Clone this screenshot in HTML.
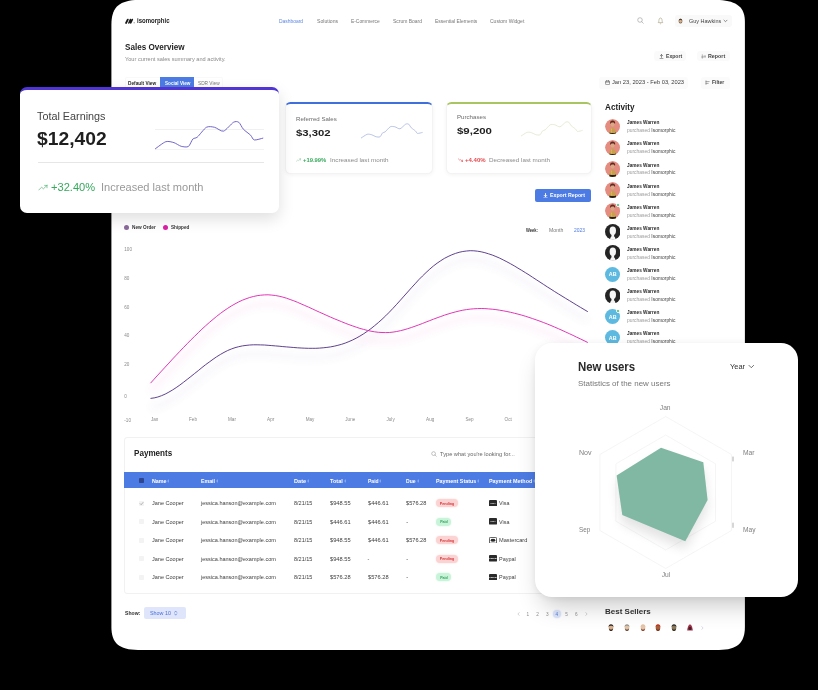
<!DOCTYPE html>
<html lang="en"><head><meta charset="utf-8"><title>Isomorphic Dashboard</title>
<style>
html,body{margin:0;padding:0;background:#000;}
body{width:818px;height:690px;position:relative;overflow:hidden;font-family:"Liberation Sans",sans-serif;}
.t{position:absolute;white-space:nowrap;display:block;transform-origin:0 50%;}
.b{position:absolute;box-sizing:border-box;display:block;}
</style></head>
<body>
<svg class="b" style="left:0px;top:0px;" width="818" height="690" viewBox="0 0 818 690"><path d="M141 -0.2 H713 C735 -0.2 744.9 5.5 744.9 22 V627 C744.9 643 737 649.9 719 649.9 H138 C119 649.9 111.4 643 111.4 627 V25 C111.4 7 119 -0.2 141 -0.2 Z" fill="#fff"/></svg>
<svg class="b" style="left:124.8px;top:18.1px;" width="11" height="6.6" viewBox="0 0 10 6"><path d="M1 4.5 L2.5 1.5" stroke="#1a1a1a" stroke-width="1.7" stroke-linecap="round" fill="none"/><path d="M3.5 4.6 L4.9 1.3 L5.2 4.6 L6.7 1.3" stroke="#1a1a1a" stroke-width="1.4" stroke-linecap="round" stroke-linejoin="round" fill="none"/><path d="M7.8 4.3 H9 M8.4 3.7 V4.9" stroke="#888" stroke-width="0.45"/></svg>
<span class="t" style="left:137px;top:16px;font-size:6.6px;line-height:9px;font-weight:700;color:#222;transform:scaleX(0.914);">isomorphic</span>
<span class="t" style="left:279.2px;top:18px;font-size:4.9px;line-height:7px;font-weight:400;color:#5a86e2;transform:scaleX(1.007);">Dashboard</span>
<span class="t" style="left:316.9px;top:18px;font-size:4.9px;line-height:7px;font-weight:400;color:#777;transform:scaleX(1.048);">Solutions</span>
<span class="t" style="left:350.9px;top:18px;font-size:4.9px;line-height:7px;font-weight:400;color:#777;transform:scaleX(0.996);">E-Commerce</span>
<span class="t" style="left:392.8px;top:18px;font-size:4.9px;line-height:7px;font-weight:400;color:#777;transform:scaleX(1.016);">Scrum Board</span>
<span class="t" style="left:434.7px;top:18px;font-size:4.9px;line-height:7px;font-weight:400;color:#777;transform:scaleX(1.017);">Essential Elements</span>
<span class="t" style="left:489.8px;top:18px;font-size:4.9px;line-height:7px;font-weight:400;color:#777;transform:scaleX(1.026);">Custom Widget</span>
<svg class="b" style="left:637px;top:17.4px;" width="7" height="7" viewBox="0 0 7 7"><circle cx="3" cy="3" r="2.3" stroke="#999" stroke-width="0.6" fill="none"/><path d="M4.7 4.7 L6.3 6.3" stroke="#999" stroke-width="0.6" stroke-linecap="round"/></svg>
<svg class="b" style="left:656.6px;top:17px;" width="7" height="8" viewBox="0 0 7 8"><path d="M1.2 5.6 C2 4.8 1.8 3.6 2 2.8 C2.2 1.6 2.8 1 3.5 1 C4.2 1 4.8 1.6 5 2.8 C5.2 3.6 5 4.8 5.8 5.6 Z" stroke="#a59a78" stroke-width="0.6" fill="none" stroke-linejoin="round"/><path d="M2.9 6.4 Q3.5 7.1 4.1 6.4" stroke="#a59a78" stroke-width="0.6" fill="none"/></svg>
<div class="b" style="left:674.8px;top:15px;width:57px;height:12px;background:#f9f9f9;border-radius:3px;"></div>
<svg class="b" style="left:678.2px;top:18px;" width="5" height="6" viewBox="0 0 5 6"><ellipse cx="2.5" cy="3" rx="1.9" ry="2.6" fill="#6b5a48"/><ellipse cx="2.5" cy="3.2" rx="1.3" ry="1.6" fill="#d8b08a"/><path d="M0.8 2.2 Q2.5 -0.4 4.2 2.2 Q2.5 1.2 0.8 2.2Z" fill="#3a2c22"/></svg>
<span class="t" style="left:688.7px;top:17px;font-size:5.2px;line-height:8px;font-weight:400;color:#444;transform:scaleX(1.057);">Guy Hawkins</span>
<svg class="b" style="left:722.6px;top:19.2px;" width="5" height="4" viewBox="0 0 5 4"><path d="M1 1.2 L2.5 2.7 L4 1.2" stroke="#444" stroke-width="0.6" fill="none" stroke-linecap="round" stroke-linejoin="round"/></svg>
<span class="t" style="left:124.6px;top:41px;font-size:8.6px;line-height:12px;font-weight:700;color:#1f1f1f;transform:scaleX(0.945);">Sales Overview</span>
<span class="t" style="left:124.5px;top:55px;font-size:5.2px;line-height:8px;font-weight:400;color:#8a8a8a;transform:scaleX(1.084);">Your current sales summary and activity.</span>
<div class="b" style="left:654px;top:51px;width:32px;height:10.4px;background:#fafafa;border-radius:3px;"></div>
<svg class="b" style="left:658.8px;top:53.6px;" width="5" height="5.4" viewBox="0 0 5 5.4"><path d="M2.5 0.6 V3.4 M1.3 1.8 L2.5 0.6 L3.7 1.8 M1 4.7 H4" stroke="#444" stroke-width="0.6" fill="none" stroke-linecap="round" stroke-linejoin="round"/></svg>
<span class="t" style="left:665.8px;top:52px;font-size:5.3px;line-height:8px;font-weight:700;color:#444;transform:scaleX(0.965);">Export</span>
<div class="b" style="left:697px;top:51px;width:32.8px;height:10.4px;background:#fafafa;border-radius:3px;"></div>
<svg class="b" style="left:701px;top:53.8px;" width="5.4" height="5" viewBox="0 0 5.4 5"><path d="M1.3 0.8 V4.2 M0.6 3 H4.8 M3 2 H4.8" stroke="#666" stroke-width="0.5" fill="none" stroke-linecap="round"/></svg>
<span class="t" style="left:708px;top:52px;font-size:5.3px;line-height:8px;font-weight:700;color:#444;transform:scaleX(1.007);">Report</span>
<div class="b" style="left:125px;top:76.6px;width:97.5px;height:12px;border:0.6px solid #f9f9f9;border-radius:2px;"></div>
<span class="t" style="left:127.9px;top:80px;font-size:4.7px;line-height:7px;font-weight:700;color:#2a2a2a;transform:scaleX(1.011);">Default View</span>
<div class="b" style="left:160.2px;top:76.6px;width:33.7px;height:12px;background:#4c7be3;"></div>
<span class="t" style="left:164.6px;top:80px;font-size:4.7px;line-height:7px;font-weight:700;color:#fff;transform:scaleX(0.988);">Social View</span>
<span class="t" style="left:197.8px;top:80px;font-size:4.7px;line-height:7px;font-weight:400;color:#777;transform:scaleX(1.015);">SDR View</span>
<div class="b" style="left:598.8px;top:76.8px;width:89px;height:11.8px;background:#fbfbfb;border-radius:3px;"></div>
<svg class="b" style="left:605px;top:80.2px;" width="5.2" height="5.2" viewBox="0 0 5.2 5.2"><rect x="0.6" y="1" width="4" height="3.6" rx="0.5" stroke="#444" stroke-width="0.5" fill="none"/><path d="M0.6 2.1 H4.6 M1.7 0.4 V1.3 M3.5 0.4 V1.3" stroke="#444" stroke-width="0.5" stroke-linecap="round"/></svg>
<span class="t" style="left:612px;top:78px;font-size:5.3px;line-height:8px;font-weight:400;color:#3a3a3a;transform:scaleX(1.082);">Jan 23, 2023 - Feb 03, 2023</span>
<div class="b" style="left:700.5px;top:76.8px;width:29.5px;height:11.8px;background:#fbfbfb;border-radius:3px;"></div>
<svg class="b" style="left:705px;top:80.2px;" width="5" height="5.2" viewBox="0 0 5 5.2"><path d="M1 0.8 V4.4 M1 1.6 H4.2 M1 3.4 H3.2" stroke="#555" stroke-width="0.5" fill="none" stroke-linecap="round"/></svg>
<span class="t" style="left:712.2px;top:78px;font-size:5.3px;line-height:8px;font-weight:700;color:#444;transform:scaleX(0.942);">Filter</span>
<div class="b" style="left:285px;top:102.4px;width:148.2px;height:71.8px;background:#fff;border-radius:5.5px;border:0.7px solid #f3f3f3;border-top:2.5px solid #3f6fdc;box-shadow:0 1px 4px rgba(0,0,0,0.05);"></div>
<span class="t" style="left:295.9px;top:114px;font-size:6.1px;line-height:9px;font-weight:400;color:#6a6a6a;transform:scaleX(1.001);">Referred Sales</span>
<span class="t" style="left:296.09999999999997px;top:126px;font-size:9.9px;line-height:13px;font-weight:700;color:#1f1f1f;transform:scaleX(1.148);">$3,302</span>
<svg class="b" style="left:361.3px;top:122.6px;" width="62" height="16" viewBox="0 0 62 16"><path d="M0 15.1 C0.77 14.62 4.80 11.71 6.15 11.3 C7.50 10.89 9.71 11.50 10.8 11.8 C11.89 12.10 13.88 13.45 14.9 13.7 C15.93 13.95 18.17 14.28 19 13.8 C19.83 13.33 20.91 10.51 21.55 9.9 C22.19 9.29 23.14 9.66 24.1 8.9 C25.06 8.14 28.02 4.44 29.25 3.8 C30.48 3.16 32.68 3.55 33.9 3.8 C35.12 4.05 37.66 6.12 39 5.8 C40.34 5.47 43.56 1.77 44.65 1.2 C45.74 0.62 46.99 0.75 47.7 1.2 C48.41 1.65 49.46 3.96 50.3 4.8 C51.14 5.64 53.62 7.20 54.4 7.9 C55.17 8.60 55.60 10.21 56.5 10.4 C57.40 10.59 60.96 9.53 61.6 9.4" stroke="#9dabdc" stroke-width="0.7" fill="none" stroke-linejoin="round"/></svg>
<svg class="b" style="left:296.4px;top:157.6px;" width="5" height="4.2" viewBox="0 0 5 4.2"><path d="M0.4 3.3 L1.9 1.9 L2.7 2.6 L4.5 0.9 M4.5 0.9 V2.1 M4.5 0.9 H3.3" stroke="#8fc7a2" stroke-width="0.5" fill="none" stroke-linecap="round" stroke-linejoin="round"/></svg>
<span class="t" style="left:303.4px;top:156px;font-size:5.7px;line-height:8px;font-weight:700;color:#35a95c;transform:scaleX(1.025);">+19.99%</span>
<span class="t" style="left:330.3px;top:156px;font-size:5.7px;line-height:8px;font-weight:400;color:#8a8a8a;transform:scaleX(1.108);">Increased last month</span>
<div class="b" style="left:446.2px;top:102.4px;width:145.4px;height:71.8px;background:#fff;border-radius:5.5px;border:0.7px solid #f3f3f3;border-top:2.5px solid #a9c460;box-shadow:0 1px 4px rgba(0,0,0,0.05);"></div>
<span class="t" style="left:457px;top:112px;font-size:6.1px;line-height:9px;font-weight:400;color:#6a6a6a;transform:scaleX(1.007);">Purchases</span>
<span class="t" style="left:457.2px;top:124px;font-size:9.9px;line-height:13px;font-weight:700;color:#1f1f1f;transform:scaleX(1.158);">$9,200</span>
<svg class="b" style="left:520.5px;top:120.6px;" width="62" height="16" viewBox="0 0 62 16"><path d="M0 15.1 C0.77 14.62 4.80 11.71 6.15 11.3 C7.50 10.89 9.71 11.50 10.8 11.8 C11.89 12.10 13.88 13.45 14.9 13.7 C15.93 13.95 18.17 14.28 19 13.8 C19.83 13.33 20.91 10.51 21.55 9.9 C22.19 9.29 23.14 9.66 24.1 8.9 C25.06 8.14 28.02 4.44 29.25 3.8 C30.48 3.16 32.68 3.55 33.9 3.8 C35.12 4.05 37.66 6.12 39 5.8 C40.34 5.47 43.56 1.77 44.65 1.2 C45.74 0.62 46.99 0.75 47.7 1.2 C48.41 1.65 49.46 3.96 50.3 4.8 C51.14 5.64 53.62 7.20 54.4 7.9 C55.17 8.60 55.60 10.21 56.5 10.4 C57.40 10.59 60.96 9.53 61.6 9.4" stroke="#dfe1c4" stroke-width="0.7" fill="none" stroke-linejoin="round"/></svg>
<svg class="b" style="left:457.5px;top:157.6px;" width="5" height="4.2" viewBox="0 0 5 4.2"><path d="M0.4 0.9 L1.9 2.3 L2.7 1.6 L4.5 3.3 M4.5 3.3 V2.1 M4.5 3.3 H3.3" stroke="#e5484d" stroke-width="0.55" fill="none" stroke-linecap="round" stroke-linejoin="round"/></svg>
<span class="t" style="left:465px;top:156px;font-size:5.7px;line-height:8px;font-weight:700;color:#e5484d;transform:scaleX(1.059);">+4.40%</span>
<span class="t" style="left:489px;top:156px;font-size:5.7px;line-height:8px;font-weight:400;color:#8a8a8a;transform:scaleX(1.101);">Decreased last month</span>
<div class="b" style="left:535.1px;top:188.6px;width:56.2px;height:13.2px;background:#4c7be3;border-radius:2px;"></div>
<svg class="b" style="left:542.8px;top:192.6px;" width="5" height="5.8" viewBox="0 0 5 5.8"><path d="M2.5 0.5 V3.6 M1.2 2.4 L2.5 3.7 L3.8 2.4" stroke="#fff" stroke-width="0.9" fill="none" stroke-linecap="round" stroke-linejoin="round"/><path d="M0.8 5 H4.2" stroke="#fff" stroke-width="0.8" stroke-linecap="round"/></svg>
<span class="t" style="left:549.5px;top:191px;font-size:5.3px;line-height:8px;font-weight:700;color:#fff;transform:scaleX(0.988);">Export Report</span>
<div class="b" style="left:124.2px;top:225px;width:5.2px;height:5.2px;background:#8b6a9c;border-radius:50%;"></div>
<span class="t" style="left:132.1px;top:224px;font-size:4.7px;line-height:7px;font-weight:700;color:#333;transform:scaleX(1.003);">New Order</span>
<div class="b" style="left:163px;top:225px;width:5.2px;height:5.2px;background:#dc1fa6;border-radius:50%;"></div>
<span class="t" style="left:170.9px;top:224px;font-size:4.7px;line-height:7px;font-weight:700;color:#333;transform:scaleX(0.995);">Shipped</span>
<span class="t" style="left:526px;top:227px;font-size:4.6px;line-height:7px;font-weight:700;color:#333;transform:scaleX(0.885);">Week:</span>
<span class="t" style="left:548.9px;top:227px;font-size:4.8px;line-height:7px;font-weight:400;color:#777;transform:scaleX(1.072);">Month</span>
<span class="t" style="left:574px;top:227px;font-size:4.8px;line-height:7px;font-weight:400;color:#4c7be3;transform:scaleX(1.031);">2023</span>
<span class="t" style="left:124.3px;top:246px;font-size:4.6px;line-height:7px;font-weight:400;color:#8a8a8a;">100</span>
<span class="t" style="left:124.3px;top:275px;font-size:4.6px;line-height:7px;font-weight:400;color:#8a8a8a;">80</span>
<span class="t" style="left:124.3px;top:304px;font-size:4.6px;line-height:7px;font-weight:400;color:#8a8a8a;">60</span>
<span class="t" style="left:124.3px;top:332px;font-size:4.6px;line-height:7px;font-weight:400;color:#8a8a8a;">40</span>
<span class="t" style="left:124.3px;top:361px;font-size:4.6px;line-height:7px;font-weight:400;color:#8a8a8a;">20</span>
<span class="t" style="left:124.3px;top:393px;font-size:4.6px;line-height:7px;font-weight:400;color:#8a8a8a;">0</span>
<span class="t" style="left:124.3px;top:417px;font-size:4.6px;line-height:7px;font-weight:400;color:#8a8a8a;">-10</span>
<span class="t" style="left:154.6px;top:416px;font-size:4.6px;line-height:7px;font-weight:400;color:#8a8a8a;transform:translateX(-50%);">Jan</span>
<span class="t" style="left:193px;top:416px;font-size:4.6px;line-height:7px;font-weight:400;color:#8a8a8a;transform:translateX(-50%);">Feb</span>
<span class="t" style="left:232px;top:416px;font-size:4.6px;line-height:7px;font-weight:400;color:#8a8a8a;transform:translateX(-50%);">Mar</span>
<span class="t" style="left:270.7px;top:416px;font-size:4.6px;line-height:7px;font-weight:400;color:#8a8a8a;transform:translateX(-50%);">Apr</span>
<span class="t" style="left:310px;top:416px;font-size:4.6px;line-height:7px;font-weight:400;color:#8a8a8a;transform:translateX(-50%);">May</span>
<span class="t" style="left:350.3px;top:416px;font-size:4.6px;line-height:7px;font-weight:400;color:#8a8a8a;transform:translateX(-50%);">June</span>
<span class="t" style="left:390.6px;top:416px;font-size:4.6px;line-height:7px;font-weight:400;color:#8a8a8a;transform:translateX(-50%);">July</span>
<span class="t" style="left:430.2px;top:416px;font-size:4.6px;line-height:7px;font-weight:400;color:#8a8a8a;transform:translateX(-50%);">Aug</span>
<span class="t" style="left:469.6px;top:416px;font-size:4.6px;line-height:7px;font-weight:400;color:#8a8a8a;transform:translateX(-50%);">Sep</span>
<span class="t" style="left:508.2px;top:416px;font-size:4.6px;line-height:7px;font-weight:400;color:#8a8a8a;transform:translateX(-50%);">Oct</span>
<span class="t" style="left:547.2px;top:416px;font-size:4.6px;line-height:7px;font-weight:400;color:#8a8a8a;transform:translateX(-50%);">Nov</span>
<span class="t" style="left:586.2px;top:416px;font-size:4.6px;line-height:7px;font-weight:400;color:#8a8a8a;transform:translateX(-50%);">Dec</span>
<svg class="b" style="left:0px;top:0px;" width="818" height="690" viewBox="0 0 818 690"><defs><filter id="sh" x="-10%" y="-20%" width="120%" height="160%"><feGaussianBlur stdDeviation="4"/></filter></defs><g filter="url(#sh)" opacity="0.10"><path d="M150.5 398.4 L154.2 397.9 L157.8 397.0 L161.5 395.7 L165.2 394.1 L168.9 392.1 L172.5 390.0 L176.2 387.6 L179.9 385.0 L183.6 382.2 L187.2 379.4 L190.9 376.5 L194.6 373.5 L198.3 370.6 L201.9 367.6 L205.6 364.7 L209.3 362.0 L213.0 359.3 L216.6 356.8 L220.3 354.5 L224.0 352.4 L227.7 350.5 L231.3 349.0 L235.0 347.7 L238.7 346.7 L242.4 345.9 L246.0 345.4 L249.7 345.0 L253.4 344.8 L257.1 344.8 L260.7 344.9 L264.4 345.0 L268.1 345.3 L271.8 345.6 L275.4 345.9 L279.1 346.2 L282.8 346.6 L286.5 346.9 L290.1 347.2 L293.8 347.5 L297.5 347.8 L301.1 348.0 L304.8 348.2 L308.5 348.3 L312.2 348.3 L315.8 348.3 L319.5 348.1 L323.2 347.8 L326.9 347.4 L330.5 346.9 L334.2 346.2 L337.9 345.3 L341.6 344.3 L345.2 343.1 L348.9 341.6 L352.6 340.0 L356.3 338.1 L359.9 336.1 L363.6 333.8 L367.3 331.3 L371.0 328.6 L374.6 325.7 L378.3 322.6 L382.0 319.3 L385.7 315.8 L389.3 312.2 L393.0 308.3 L396.7 304.3 L400.4 300.2 L404.0 296.1 L407.7 292.0 L411.4 287.8 L415.1 283.8 L418.7 279.8 L422.4 276.1 L426.1 272.5 L429.8 269.1 L433.4 266.0 L437.1 263.2 L440.8 260.7 L444.4 258.4 L448.1 256.5 L451.8 254.8 L455.5 253.4 L459.1 252.3 L462.8 251.5 L466.5 251.0 L470.2 250.7 L473.8 250.8 L477.5 251.2 L481.2 251.8 L484.9 252.7 L488.5 253.8 L492.2 255.0 L495.9 256.5 L499.6 258.1 L503.2 259.9 L506.9 261.8 L510.6 263.8 L514.3 265.9 L517.9 268.1 L521.6 270.3 L525.3 272.6 L529.0 274.9 L532.6 277.3 L536.3 279.7 L540.0 282.1 L543.7 284.5 L547.3 286.9 L551.0 289.2 L554.7 291.6 L558.4 293.9 L562.0 296.1 L565.7 298.4 L569.4 300.6 L573.1 302.9 L576.7 305.1 L580.4 307.3 L584.1 309.5 L587.8 311.7" transform="translate(0,9)" stroke="#6a3fa0" stroke-width="3" fill="none"/><path d="M150.5 383.2 L154.2 379.1 L157.8 375.1 L161.5 371.1 L165.2 367.1 L168.9 363.1 L172.5 359.1 L176.2 355.2 L179.9 351.3 L183.6 347.4 L187.2 343.7 L190.9 339.9 L194.6 336.3 L198.3 332.7 L201.9 329.2 L205.6 325.8 L209.3 322.5 L213.0 319.4 L216.6 316.4 L220.3 313.5 L224.0 310.8 L227.7 308.3 L231.3 306.0 L235.0 303.9 L238.7 301.9 L242.4 300.2 L246.0 298.8 L249.7 297.5 L253.4 296.5 L257.1 295.7 L260.7 295.2 L264.4 294.9 L268.1 294.8 L271.8 295.1 L275.4 295.5 L279.1 296.2 L282.8 297.1 L286.5 298.2 L290.1 299.5 L293.8 300.8 L297.5 302.3 L301.1 303.9 L304.8 305.5 L308.5 307.1 L312.2 308.8 L315.8 310.5 L319.5 312.2 L323.2 313.8 L326.9 315.5 L330.5 317.1 L334.2 318.7 L337.9 320.2 L341.6 321.7 L345.2 323.2 L348.9 324.6 L352.6 325.9 L356.3 327.2 L359.9 328.4 L363.6 329.4 L367.3 330.4 L371.0 331.2 L374.6 331.8 L378.3 332.3 L382.0 332.5 L385.7 332.6 L389.3 332.5 L393.0 332.1 L396.7 331.5 L400.4 330.7 L404.0 329.8 L407.7 328.7 L411.4 327.5 L415.1 326.2 L418.7 324.9 L422.4 323.5 L426.1 322.0 L429.8 320.6 L433.4 319.2 L437.1 317.8 L440.8 316.5 L444.4 315.2 L448.1 314.0 L451.8 312.9 L455.5 311.9 L459.1 311.0 L462.8 310.2 L466.5 309.6 L470.2 309.1 L473.8 308.8 L477.5 308.6 L481.2 308.5 L484.9 308.6 L488.5 308.9 L492.2 309.2 L495.9 309.6 L499.6 310.2 L503.2 310.8 L506.9 311.5 L510.6 312.3 L514.3 313.2 L517.9 314.1 L521.6 315.1 L525.3 316.2 L529.0 317.4 L532.6 318.6 L536.3 319.9 L540.0 321.2 L543.7 322.6 L547.3 324.0 L551.0 325.5 L554.7 327.1 L558.4 328.7 L562.0 330.3 L565.7 332.0 L569.4 333.7 L573.1 335.4 L576.7 337.2 L580.4 338.9 L584.1 340.7 L587.8 342.5" transform="translate(0,9)" stroke="#e020b0" stroke-width="3" fill="none"/></g><path d="M150.5 398.4 L154.2 397.9 L157.8 397.0 L161.5 395.7 L165.2 394.1 L168.9 392.1 L172.5 390.0 L176.2 387.6 L179.9 385.0 L183.6 382.2 L187.2 379.4 L190.9 376.5 L194.6 373.5 L198.3 370.6 L201.9 367.6 L205.6 364.7 L209.3 362.0 L213.0 359.3 L216.6 356.8 L220.3 354.5 L224.0 352.4 L227.7 350.5 L231.3 349.0 L235.0 347.7 L238.7 346.7 L242.4 345.9 L246.0 345.4 L249.7 345.0 L253.4 344.8 L257.1 344.8 L260.7 344.9 L264.4 345.0 L268.1 345.3 L271.8 345.6 L275.4 345.9 L279.1 346.2 L282.8 346.6 L286.5 346.9 L290.1 347.2 L293.8 347.5 L297.5 347.8 L301.1 348.0 L304.8 348.2 L308.5 348.3 L312.2 348.3 L315.8 348.3 L319.5 348.1 L323.2 347.8 L326.9 347.4 L330.5 346.9 L334.2 346.2 L337.9 345.3 L341.6 344.3 L345.2 343.1 L348.9 341.6 L352.6 340.0 L356.3 338.1 L359.9 336.1 L363.6 333.8 L367.3 331.3 L371.0 328.6 L374.6 325.7 L378.3 322.6 L382.0 319.3 L385.7 315.8 L389.3 312.2 L393.0 308.3 L396.7 304.3 L400.4 300.2 L404.0 296.1 L407.7 292.0 L411.4 287.8 L415.1 283.8 L418.7 279.8 L422.4 276.1 L426.1 272.5 L429.8 269.1 L433.4 266.0 L437.1 263.2 L440.8 260.7 L444.4 258.4 L448.1 256.5 L451.8 254.8 L455.5 253.4 L459.1 252.3 L462.8 251.5 L466.5 251.0 L470.2 250.7 L473.8 250.8 L477.5 251.2 L481.2 251.8 L484.9 252.7 L488.5 253.8 L492.2 255.0 L495.9 256.5 L499.6 258.1 L503.2 259.9 L506.9 261.8 L510.6 263.8 L514.3 265.9 L517.9 268.1 L521.6 270.3 L525.3 272.6 L529.0 274.9 L532.6 277.3 L536.3 279.7 L540.0 282.1 L543.7 284.5 L547.3 286.9 L551.0 289.2 L554.7 291.6 L558.4 293.9 L562.0 296.1 L565.7 298.4 L569.4 300.6 L573.1 302.9 L576.7 305.1 L580.4 307.3 L584.1 309.5 L587.8 311.7" stroke="#4d2c82" stroke-width="0.9" fill="none"/><path d="M150.5 383.2 L154.2 379.1 L157.8 375.1 L161.5 371.1 L165.2 367.1 L168.9 363.1 L172.5 359.1 L176.2 355.2 L179.9 351.3 L183.6 347.4 L187.2 343.7 L190.9 339.9 L194.6 336.3 L198.3 332.7 L201.9 329.2 L205.6 325.8 L209.3 322.5 L213.0 319.4 L216.6 316.4 L220.3 313.5 L224.0 310.8 L227.7 308.3 L231.3 306.0 L235.0 303.9 L238.7 301.9 L242.4 300.2 L246.0 298.8 L249.7 297.5 L253.4 296.5 L257.1 295.7 L260.7 295.2 L264.4 294.9 L268.1 294.8 L271.8 295.1 L275.4 295.5 L279.1 296.2 L282.8 297.1 L286.5 298.2 L290.1 299.5 L293.8 300.8 L297.5 302.3 L301.1 303.9 L304.8 305.5 L308.5 307.1 L312.2 308.8 L315.8 310.5 L319.5 312.2 L323.2 313.8 L326.9 315.5 L330.5 317.1 L334.2 318.7 L337.9 320.2 L341.6 321.7 L345.2 323.2 L348.9 324.6 L352.6 325.9 L356.3 327.2 L359.9 328.4 L363.6 329.4 L367.3 330.4 L371.0 331.2 L374.6 331.8 L378.3 332.3 L382.0 332.5 L385.7 332.6 L389.3 332.5 L393.0 332.1 L396.7 331.5 L400.4 330.7 L404.0 329.8 L407.7 328.7 L411.4 327.5 L415.1 326.2 L418.7 324.9 L422.4 323.5 L426.1 322.0 L429.8 320.6 L433.4 319.2 L437.1 317.8 L440.8 316.5 L444.4 315.2 L448.1 314.0 L451.8 312.9 L455.5 311.9 L459.1 311.0 L462.8 310.2 L466.5 309.6 L470.2 309.1 L473.8 308.8 L477.5 308.6 L481.2 308.5 L484.9 308.6 L488.5 308.9 L492.2 309.2 L495.9 309.6 L499.6 310.2 L503.2 310.8 L506.9 311.5 L510.6 312.3 L514.3 313.2 L517.9 314.1 L521.6 315.1 L525.3 316.2 L529.0 317.4 L532.6 318.6 L536.3 319.9 L540.0 321.2 L543.7 322.6 L547.3 324.0 L551.0 325.5 L554.7 327.1 L558.4 328.7 L562.0 330.3 L565.7 332.0 L569.4 333.7 L573.1 335.4 L576.7 337.2 L580.4 338.9 L584.1 340.7 L587.8 342.5" stroke="#e01fae" stroke-width="0.9" fill="none"/></svg>
<span class="t" style="left:604.9px;top:101px;font-size:8.6px;line-height:12px;font-weight:700;color:#222;transform:scaleX(0.950);">Activity</span>
<svg class="b" style="left:604.9px;top:118.8px;border-radius:50%;overflow:hidden;" width="15.6" height="15.6" viewBox="0 0 15.6 15.6"><circle cx="7.8" cy="7.8" r="7.8" fill="#e58c81"/><g><path d="M4.3 16 C4.2 11.4 5.4 8.9 7.6 8.7 C9.9 8.9 11.3 11.4 11.2 16 Z" fill="#c9a04c"/><path d="M4.3 16 L4.5 13.6 C6 14.3 9.4 14.3 11 13.6 L11.2 16 Z" fill="#2a1c14"/><rect x="6.7" y="7" width="1.8" height="2.4" fill="#cf9873"/><ellipse cx="7.6" cy="5.3" rx="2" ry="2.4" fill="#dba884"/><path d="M5.2 5.2 C4.6 2.2 6.2 1.4 7.7 1.5 C9.4 1.5 10.7 2.6 10 5.2 C9.6 3.9 8.9 3.4 7.6 3.5 C6.3 3.5 5.6 4 5.2 5.2 Z" fill="#5b2a22"/><path d="M6.6 9.6 C6.2 10.8 6.2 12.2 6.6 13.4" stroke="#e0bb62" stroke-width="0.9" fill="none"/></g></svg>
<span class="t" style="left:626.9px;top:119px;font-size:4.9px;line-height:7px;font-weight:700;color:#2a2a2a;transform:scaleX(0.971);">James Warren</span>
<span class="t" style="left:626.9px;top:127px;font-size:4.9px;line-height:7px;font-weight:400;color:#444;transform:scaleX(1.006);"><span style="color:#999">purchased</span> Isomorphic</span>
<svg class="b" style="left:604.9px;top:139.9px;border-radius:50%;overflow:hidden;" width="15.6" height="15.6" viewBox="0 0 15.6 15.6"><circle cx="7.8" cy="7.8" r="7.8" fill="#e58c81"/><g><path d="M4.3 16 C4.2 11.4 5.4 8.9 7.6 8.7 C9.9 8.9 11.3 11.4 11.2 16 Z" fill="#c9a04c"/><path d="M4.3 16 L4.5 13.6 C6 14.3 9.4 14.3 11 13.6 L11.2 16 Z" fill="#2a1c14"/><rect x="6.7" y="7" width="1.8" height="2.4" fill="#cf9873"/><ellipse cx="7.6" cy="5.3" rx="2" ry="2.4" fill="#dba884"/><path d="M5.2 5.2 C4.6 2.2 6.2 1.4 7.7 1.5 C9.4 1.5 10.7 2.6 10 5.2 C9.6 3.9 8.9 3.4 7.6 3.5 C6.3 3.5 5.6 4 5.2 5.2 Z" fill="#5b2a22"/><path d="M6.6 9.6 C6.2 10.8 6.2 12.2 6.6 13.4" stroke="#e0bb62" stroke-width="0.9" fill="none"/></g></svg>
<span class="t" style="left:626.9px;top:140px;font-size:4.9px;line-height:7px;font-weight:700;color:#2a2a2a;transform:scaleX(0.971);">James Warren</span>
<span class="t" style="left:626.9px;top:148px;font-size:4.9px;line-height:7px;font-weight:400;color:#444;transform:scaleX(1.006);"><span style="color:#999">purchased</span> Isomorphic</span>
<svg class="b" style="left:604.9px;top:161.0px;border-radius:50%;overflow:hidden;" width="15.6" height="15.6" viewBox="0 0 15.6 15.6"><circle cx="7.8" cy="7.8" r="7.8" fill="#e58c81"/><g><path d="M4.3 16 C4.2 11.4 5.4 8.9 7.6 8.7 C9.9 8.9 11.3 11.4 11.2 16 Z" fill="#c9a04c"/><path d="M4.3 16 L4.5 13.6 C6 14.3 9.4 14.3 11 13.6 L11.2 16 Z" fill="#2a1c14"/><rect x="6.7" y="7" width="1.8" height="2.4" fill="#cf9873"/><ellipse cx="7.6" cy="5.3" rx="2" ry="2.4" fill="#dba884"/><path d="M5.2 5.2 C4.6 2.2 6.2 1.4 7.7 1.5 C9.4 1.5 10.7 2.6 10 5.2 C9.6 3.9 8.9 3.4 7.6 3.5 C6.3 3.5 5.6 4 5.2 5.2 Z" fill="#5b2a22"/><path d="M6.6 9.6 C6.2 10.8 6.2 12.2 6.6 13.4" stroke="#e0bb62" stroke-width="0.9" fill="none"/></g></svg>
<span class="t" style="left:626.9px;top:162px;font-size:4.9px;line-height:7px;font-weight:700;color:#2a2a2a;transform:scaleX(0.971);">James Warren</span>
<span class="t" style="left:626.9px;top:169px;font-size:4.9px;line-height:7px;font-weight:400;color:#444;transform:scaleX(1.006);"><span style="color:#999">purchased</span> Isomorphic</span>
<svg class="b" style="left:604.9px;top:182.1px;border-radius:50%;overflow:hidden;" width="15.6" height="15.6" viewBox="0 0 15.6 15.6"><circle cx="7.8" cy="7.8" r="7.8" fill="#e58c81"/><g><path d="M4.3 16 C4.2 11.4 5.4 8.9 7.6 8.7 C9.9 8.9 11.3 11.4 11.2 16 Z" fill="#c9a04c"/><path d="M4.3 16 L4.5 13.6 C6 14.3 9.4 14.3 11 13.6 L11.2 16 Z" fill="#2a1c14"/><rect x="6.7" y="7" width="1.8" height="2.4" fill="#cf9873"/><ellipse cx="7.6" cy="5.3" rx="2" ry="2.4" fill="#dba884"/><path d="M5.2 5.2 C4.6 2.2 6.2 1.4 7.7 1.5 C9.4 1.5 10.7 2.6 10 5.2 C9.6 3.9 8.9 3.4 7.6 3.5 C6.3 3.5 5.6 4 5.2 5.2 Z" fill="#5b2a22"/><path d="M6.6 9.6 C6.2 10.8 6.2 12.2 6.6 13.4" stroke="#e0bb62" stroke-width="0.9" fill="none"/></g></svg>
<span class="t" style="left:626.9px;top:183px;font-size:4.9px;line-height:7px;font-weight:700;color:#2a2a2a;transform:scaleX(0.971);">James Warren</span>
<span class="t" style="left:626.9px;top:191px;font-size:4.9px;line-height:7px;font-weight:400;color:#444;transform:scaleX(1.006);"><span style="color:#999">purchased</span> Isomorphic</span>
<svg class="b" style="left:604.9px;top:203.2px;border-radius:50%;overflow:hidden;" width="15.6" height="15.6" viewBox="0 0 15.6 15.6"><circle cx="7.8" cy="7.8" r="7.8" fill="#e58c81"/><g><path d="M4.3 16 C4.2 11.4 5.4 8.9 7.6 8.7 C9.9 8.9 11.3 11.4 11.2 16 Z" fill="#c9a04c"/><path d="M4.3 16 L4.5 13.6 C6 14.3 9.4 14.3 11 13.6 L11.2 16 Z" fill="#2a1c14"/><rect x="6.7" y="7" width="1.8" height="2.4" fill="#cf9873"/><ellipse cx="7.6" cy="5.3" rx="2" ry="2.4" fill="#dba884"/><path d="M5.2 5.2 C4.6 2.2 6.2 1.4 7.7 1.5 C9.4 1.5 10.7 2.6 10 5.2 C9.6 3.9 8.9 3.4 7.6 3.5 C6.3 3.5 5.6 4 5.2 5.2 Z" fill="#5b2a22"/><path d="M6.6 9.6 C6.2 10.8 6.2 12.2 6.6 13.4" stroke="#e0bb62" stroke-width="0.9" fill="none"/></g></svg>
<div class="b" style="left:615.9px;top:203.0px;width:4px;height:4px;background:#2fb36a;border-radius:50%;border:0.5px solid #fff;"></div>
<span class="t" style="left:626.9px;top:204px;font-size:4.9px;line-height:7px;font-weight:700;color:#2a2a2a;transform:scaleX(0.971);">James Warren</span>
<span class="t" style="left:626.9px;top:212px;font-size:4.9px;line-height:7px;font-weight:400;color:#444;transform:scaleX(1.006);"><span style="color:#999">purchased</span> Isomorphic</span>
<svg class="b" style="left:604.9px;top:224.3px;" width="15.6" height="15.6" viewBox="0 0 15.6 15.6"><circle cx="7.8" cy="7.8" r="7.8" fill="#242424"/><ellipse cx="7.8" cy="6.7" rx="3.2" ry="4.2" fill="#f5f5f5"/><rect x="6.5" y="9.8" width="2.6" height="3" fill="#f5f5f5"/><path d="M5 15.7 C5.2 13.4 6.3 12.3 7.8 12.1 C9.3 12.3 10.4 13.4 10.6 15.7 Z" fill="#f5f5f5"/></svg>
<span class="t" style="left:626.9px;top:225px;font-size:4.9px;line-height:7px;font-weight:700;color:#2a2a2a;transform:scaleX(0.971);">James Warren</span>
<span class="t" style="left:626.9px;top:233px;font-size:4.9px;line-height:7px;font-weight:400;color:#444;transform:scaleX(1.006);"><span style="color:#999">purchased</span> Isomorphic</span>
<svg class="b" style="left:604.9px;top:245.4px;" width="15.6" height="15.6" viewBox="0 0 15.6 15.6"><circle cx="7.8" cy="7.8" r="7.8" fill="#242424"/><ellipse cx="7.8" cy="6.7" rx="3.2" ry="4.2" fill="#f5f5f5"/><rect x="6.5" y="9.8" width="2.6" height="3" fill="#f5f5f5"/><path d="M5 15.7 C5.2 13.4 6.3 12.3 7.8 12.1 C9.3 12.3 10.4 13.4 10.6 15.7 Z" fill="#f5f5f5"/></svg>
<span class="t" style="left:626.9px;top:246px;font-size:4.9px;line-height:7px;font-weight:700;color:#2a2a2a;transform:scaleX(0.971);">James Warren</span>
<span class="t" style="left:626.9px;top:254px;font-size:4.9px;line-height:7px;font-weight:400;color:#444;transform:scaleX(1.006);"><span style="color:#999">purchased</span> Isomorphic</span>
<div class="b" style="left:604.9px;top:266.5px;width:15.6px;height:15.6px;background:#5db9df;border-radius:50%;"></div>
<span class="t" style="left:612.7px;top:270px;font-size:5.4px;line-height:8px;font-weight:700;color:#fff;transform:translateX(-50%);">AB</span>
<span class="t" style="left:626.9px;top:267px;font-size:4.9px;line-height:7px;font-weight:700;color:#2a2a2a;transform:scaleX(0.971);">James Warren</span>
<span class="t" style="left:626.9px;top:275px;font-size:4.9px;line-height:7px;font-weight:400;color:#444;transform:scaleX(1.006);"><span style="color:#999">purchased</span> Isomorphic</span>
<svg class="b" style="left:604.9px;top:287.6px;" width="15.6" height="15.6" viewBox="0 0 15.6 15.6"><circle cx="7.8" cy="7.8" r="7.8" fill="#242424"/><ellipse cx="7.8" cy="6.7" rx="3.2" ry="4.2" fill="#f5f5f5"/><rect x="6.5" y="9.8" width="2.6" height="3" fill="#f5f5f5"/><path d="M5 15.7 C5.2 13.4 6.3 12.3 7.8 12.1 C9.3 12.3 10.4 13.4 10.6 15.7 Z" fill="#f5f5f5"/></svg>
<span class="t" style="left:626.9px;top:288px;font-size:4.9px;line-height:7px;font-weight:700;color:#2a2a2a;transform:scaleX(0.971);">James Warren</span>
<span class="t" style="left:626.9px;top:296px;font-size:4.9px;line-height:7px;font-weight:400;color:#444;transform:scaleX(1.006);"><span style="color:#999">purchased</span> Isomorphic</span>
<div class="b" style="left:604.9px;top:308.7px;width:15.6px;height:15.6px;background:#5db9df;border-radius:50%;"></div>
<span class="t" style="left:612.7px;top:313px;font-size:5.4px;line-height:8px;font-weight:700;color:#fff;transform:translateX(-50%);">AB</span>
<div class="b" style="left:615.9px;top:308.5px;width:4px;height:4px;background:#2fb36a;border-radius:50%;border:0.5px solid #fff;"></div>
<span class="t" style="left:626.9px;top:309px;font-size:4.9px;line-height:7px;font-weight:700;color:#2a2a2a;transform:scaleX(0.971);">James Warren</span>
<span class="t" style="left:626.9px;top:317px;font-size:4.9px;line-height:7px;font-weight:400;color:#444;transform:scaleX(1.006);"><span style="color:#999">purchased</span> Isomorphic</span>
<div class="b" style="left:604.9px;top:329.8px;width:15.6px;height:15.6px;background:#5db9df;border-radius:50%;"></div>
<span class="t" style="left:612.7px;top:334px;font-size:5.4px;line-height:8px;font-weight:700;color:#fff;transform:translateX(-50%);">AB</span>
<span class="t" style="left:626.9px;top:330px;font-size:4.9px;line-height:7px;font-weight:700;color:#2a2a2a;transform:scaleX(0.971);">James Warren</span>
<span class="t" style="left:626.9px;top:338px;font-size:4.9px;line-height:7px;font-weight:400;color:#444;transform:scaleX(1.006);"><span style="color:#999">purchased</span> Isomorphic</span>
<div class="b" style="left:124px;top:437px;width:468px;height:157.4px;border:0.7px solid #f1f1f1;border-radius:3px;background:#fff;"></div>
<span class="t" style="left:134px;top:447px;font-size:8.6px;line-height:12px;font-weight:700;color:#222;transform:scaleX(0.941);">Payments</span>
<svg class="b" style="left:431.4px;top:451.2px;" width="6" height="6" viewBox="0 0 6 6"><circle cx="2.6" cy="2.6" r="1.9" stroke="#888" stroke-width="0.5" fill="none"/><path d="M4 4 L5.3 5.3" stroke="#888" stroke-width="0.5" stroke-linecap="round"/></svg>
<span class="t" style="left:439.9px;top:450px;font-size:5.2px;line-height:8px;font-weight:400;color:#666;transform:scaleX(1.092);">Type what you're looking for...</span>
<div class="b" style="left:124.2px;top:471.8px;width:467.6px;height:16.2px;background:#4c7be3;"></div>
<div class="b" style="left:138.8px;top:478.1px;width:5.4px;height:5.4px;background:#2d4691;border-radius:0.8px;"></div>
<span class="t" style="left:151.8px;top:478px;font-size:4.9px;line-height:7px;font-weight:700;color:#fff;transform:scaleX(1.095);">Name</span>
<svg class="b" style="left:167.4px;top:478.8px;" width="2.4" height="4" viewBox="0 0 2.4 4"><path d="M1.2 0.6 L2 1.6 H0.4 Z M1.2 3.6 L2 2.6 H0.4 Z" fill="#dfe7fb"/></svg>
<span class="t" style="left:201.3px;top:478px;font-size:4.9px;line-height:7px;font-weight:700;color:#fff;transform:scaleX(1.072);">Email</span>
<svg class="b" style="left:216.3px;top:478.8px;" width="2.4" height="4" viewBox="0 0 2.4 4"><path d="M1.2 0.6 L2 1.6 H0.4 Z M1.2 3.6 L2 2.6 H0.4 Z" fill="#dfe7fb"/></svg>
<span class="t" style="left:293.7px;top:478px;font-size:4.9px;line-height:7px;font-weight:700;color:#fff;transform:scaleX(1.141);">Date</span>
<svg class="b" style="left:306.8px;top:478.8px;" width="2.4" height="4" viewBox="0 0 2.4 4"><path d="M1.2 0.6 L2 1.6 H0.4 Z M1.2 3.6 L2 2.6 H0.4 Z" fill="#dfe7fb"/></svg>
<span class="t" style="left:329.8px;top:478px;font-size:4.9px;line-height:7px;font-weight:700;color:#fff;transform:scaleX(1.130);">Total</span>
<svg class="b" style="left:343.6px;top:478.8px;" width="2.4" height="4" viewBox="0 0 2.4 4"><path d="M1.2 0.6 L2 1.6 H0.4 Z M1.2 3.6 L2 2.6 H0.4 Z" fill="#dfe7fb"/></svg>
<span class="t" style="left:367.6px;top:478px;font-size:4.9px;line-height:7px;font-weight:700;color:#fff;transform:scaleX(1.026);">Paid</span>
<svg class="b" style="left:379.2px;top:478.8px;" width="2.4" height="4" viewBox="0 0 2.4 4"><path d="M1.2 0.6 L2 1.6 H0.4 Z M1.2 3.6 L2 2.6 H0.4 Z" fill="#dfe7fb"/></svg>
<span class="t" style="left:406.2px;top:478px;font-size:4.9px;line-height:7px;font-weight:700;color:#fff;transform:scaleX(1.038);">Due</span>
<svg class="b" style="left:416.8px;top:478.8px;" width="2.4" height="4" viewBox="0 0 2.4 4"><path d="M1.2 0.6 L2 1.6 H0.4 Z M1.2 3.6 L2 2.6 H0.4 Z" fill="#dfe7fb"/></svg>
<span class="t" style="left:435.9px;top:478px;font-size:4.9px;line-height:7px;font-weight:700;color:#fff;transform:scaleX(1.095);">Payment Status</span>
<svg class="b" style="left:477.1px;top:478.8px;" width="2.4" height="4" viewBox="0 0 2.4 4"><path d="M1.2 0.6 L2 1.6 H0.4 Z M1.2 3.6 L2 2.6 H0.4 Z" fill="#dfe7fb"/></svg>
<span class="t" style="left:488.8px;top:478px;font-size:4.9px;line-height:7px;font-weight:700;color:#fff;transform:scaleX(1.106);">Payment Method</span>
<svg class="b" style="left:533.1px;top:478.8px;" width="2.4" height="4" viewBox="0 0 2.4 4"><path d="M1.2 0.6 L2 1.6 H0.4 Z M1.2 3.6 L2 2.6 H0.4 Z" fill="#dfe7fb"/></svg>
<div class="b" style="left:139px;top:500.6px;width:5.2px;height:5.2px;background:#f3f3f3;border-radius:0.8px;"></div>
<svg class="b" style="left:139px;top:500.6px;" width="5.2" height="5.2" viewBox="0 0 5.2 5.2"><path d="M1.2 2.7 L2.2 3.7 L4 1.5" stroke="#888" stroke-width="0.6" fill="none" stroke-linecap="round" stroke-linejoin="round"/></svg>
<span class="t" style="left:151.7px;top:499px;font-size:5.5px;line-height:8px;font-weight:400;color:#3d3d3d;transform:scaleX(1.006);">Jane Cooper</span>
<span class="t" style="left:201.2px;top:499px;font-size:5.5px;line-height:8px;font-weight:400;color:#3d3d3d;transform:scaleX(1.002);">jessica.hanson@example.com</span>
<span class="t" style="left:293.7px;top:499px;font-size:5.5px;line-height:8px;font-weight:400;color:#3d3d3d;transform:scaleX(1.002);">8/21/15</span>
<span class="t" style="left:329.8px;top:499px;font-size:5.5px;line-height:8px;font-weight:400;color:#3d3d3d;transform:scaleX(1.036);">$948.55</span>
<span class="t" style="left:367.6px;top:499px;font-size:5.5px;line-height:8px;font-weight:400;color:#3d3d3d;transform:scaleX(1.036);">$446.61</span>
<span class="t" style="left:406.3px;top:499px;font-size:5.5px;line-height:8px;font-weight:400;color:#3d3d3d;transform:scaleX(1.026);">$576.28</span>
<div class="b" style="left:435.9px;top:499.2px;width:22.1px;height:8.1px;background:#fbd3d3;border-radius:4px;box-shadow:0 0 2px rgba(251,211,211,0.9);"></div>
<span class="t" style="left:447px;top:500px;font-size:3.9px;line-height:7px;font-weight:700;color:#d8373c;transform:translateX(-50%) scaleX(0.938);transform-origin:50% 50%;">Pending</span>
<svg class="b" style="left:488.8px;top:499.9px;" width="8" height="6.6" viewBox="0 0 8 6.6"><rect width="8" height="6.6" rx="0.9" fill="#2a2a2a"/><text x="4" y="4.3" font-size="2.3" font-weight="700" fill="#fff" text-anchor="middle" font-family="Liberation Sans, sans-serif">VISA</text></svg>
<span class="t" style="left:499.2px;top:499px;font-size:5.5px;line-height:8px;font-weight:400;color:#3d3d3d;transform:scaleX(0.980);">Visa</span>
<div class="b" style="left:139px;top:519.1px;width:5.2px;height:5.2px;background:#f3f3f3;border-radius:0.8px;"></div>
<span class="t" style="left:151.7px;top:518px;font-size:5.5px;line-height:8px;font-weight:400;color:#3d3d3d;transform:scaleX(1.006);">Jane Cooper</span>
<span class="t" style="left:201.2px;top:518px;font-size:5.5px;line-height:8px;font-weight:400;color:#3d3d3d;transform:scaleX(1.002);">jessica.hanson@example.com</span>
<span class="t" style="left:293.7px;top:518px;font-size:5.5px;line-height:8px;font-weight:400;color:#3d3d3d;transform:scaleX(1.002);">8/21/15</span>
<span class="t" style="left:329.8px;top:518px;font-size:5.5px;line-height:8px;font-weight:400;color:#3d3d3d;transform:scaleX(1.036);">$446.61</span>
<span class="t" style="left:367.6px;top:518px;font-size:5.5px;line-height:8px;font-weight:400;color:#3d3d3d;transform:scaleX(1.036);">$446.61</span>
<span class="t" style="left:406.3px;top:518px;font-size:5.5px;line-height:8px;font-weight:400;color:#3d3d3d;">-</span>
<div class="b" style="left:435.9px;top:517.7px;width:15.2px;height:8.1px;background:#c9f4d9;border-radius:4px;box-shadow:0 0 2px rgba(201,244,217,0.9);"></div>
<span class="t" style="left:443.5px;top:518px;font-size:3.9px;line-height:7px;font-weight:700;color:#2c9f58;transform:translateX(-50%) scaleX(0.925);transform-origin:50% 50%;">Paid</span>
<svg class="b" style="left:488.8px;top:518.4px;" width="8" height="6.6" viewBox="0 0 8 6.6"><rect width="8" height="6.6" rx="0.9" fill="#2a2a2a"/><text x="4" y="4.3" font-size="2.3" font-weight="700" fill="#fff" text-anchor="middle" font-family="Liberation Sans, sans-serif">VISA</text></svg>
<span class="t" style="left:499.2px;top:518px;font-size:5.5px;line-height:8px;font-weight:400;color:#3d3d3d;transform:scaleX(0.980);">Visa</span>
<div class="b" style="left:139px;top:537.6px;width:5.2px;height:5.2px;background:#f3f3f3;border-radius:0.8px;"></div>
<span class="t" style="left:151.7px;top:536px;font-size:5.5px;line-height:8px;font-weight:400;color:#3d3d3d;transform:scaleX(1.006);">Jane Cooper</span>
<span class="t" style="left:201.2px;top:536px;font-size:5.5px;line-height:8px;font-weight:400;color:#3d3d3d;transform:scaleX(1.002);">jessica.hanson@example.com</span>
<span class="t" style="left:293.7px;top:536px;font-size:5.5px;line-height:8px;font-weight:400;color:#3d3d3d;transform:scaleX(1.002);">8/21/15</span>
<span class="t" style="left:329.8px;top:536px;font-size:5.5px;line-height:8px;font-weight:400;color:#3d3d3d;transform:scaleX(1.036);">$948.55</span>
<span class="t" style="left:367.6px;top:536px;font-size:5.5px;line-height:8px;font-weight:400;color:#3d3d3d;transform:scaleX(1.036);">$446.61</span>
<span class="t" style="left:406.3px;top:536px;font-size:5.5px;line-height:8px;font-weight:400;color:#3d3d3d;transform:scaleX(1.026);">$576.28</span>
<div class="b" style="left:435.9px;top:536.2px;width:22.1px;height:8.1px;background:#fbd3d3;border-radius:4px;box-shadow:0 0 2px rgba(251,211,211,0.9);"></div>
<span class="t" style="left:447px;top:537px;font-size:3.9px;line-height:7px;font-weight:700;color:#d8373c;transform:translateX(-50%) scaleX(0.938);transform-origin:50% 50%;">Pending</span>
<svg class="b" style="left:488.8px;top:536.9px;" width="8" height="6.6" viewBox="0 0 8 6.6"><rect x="0.4" y="0.4" width="7.2" height="5.8" rx="1" fill="#fff" stroke="#2a2a2a" stroke-width="0.8"/><circle cx="3.2" cy="3.3" r="1.5" fill="#2a2a2a"/><circle cx="4.8" cy="3.3" r="1.5" fill="#2a2a2a"/></svg>
<span class="t" style="left:499.2px;top:536px;font-size:5.5px;line-height:8px;font-weight:400;color:#3d3d3d;transform:scaleX(1.029);">Mastercard</span>
<div class="b" style="left:139px;top:556.1px;width:5.2px;height:5.2px;background:#f3f3f3;border-radius:0.8px;"></div>
<span class="t" style="left:151.7px;top:555px;font-size:5.5px;line-height:8px;font-weight:400;color:#3d3d3d;transform:scaleX(1.006);">Jane Cooper</span>
<span class="t" style="left:201.2px;top:555px;font-size:5.5px;line-height:8px;font-weight:400;color:#3d3d3d;transform:scaleX(1.002);">jessica.hanson@example.com</span>
<span class="t" style="left:293.7px;top:555px;font-size:5.5px;line-height:8px;font-weight:400;color:#3d3d3d;transform:scaleX(1.002);">8/21/15</span>
<span class="t" style="left:329.8px;top:555px;font-size:5.5px;line-height:8px;font-weight:400;color:#3d3d3d;transform:scaleX(1.036);">$948.55</span>
<span class="t" style="left:367.6px;top:555px;font-size:5.5px;line-height:8px;font-weight:400;color:#3d3d3d;">-</span>
<span class="t" style="left:406.3px;top:555px;font-size:5.5px;line-height:8px;font-weight:400;color:#3d3d3d;">-</span>
<div class="b" style="left:435.9px;top:554.7px;width:22.1px;height:8.1px;background:#fbd3d3;border-radius:4px;box-shadow:0 0 2px rgba(251,211,211,0.9);"></div>
<span class="t" style="left:447px;top:555px;font-size:3.9px;line-height:7px;font-weight:700;color:#d8373c;transform:translateX(-50%) scaleX(0.938);transform-origin:50% 50%;">Pending</span>
<svg class="b" style="left:488.8px;top:555.4px;" width="8" height="6.6" viewBox="0 0 8 6.6"><rect width="8" height="6.6" rx="0.9" fill="#2a2a2a"/><text x="4" y="4.3" font-size="2.3" font-weight="700" fill="#fff" text-anchor="middle" font-family="Liberation Sans, sans-serif">PayPal</text></svg>
<span class="t" style="left:499.2px;top:555px;font-size:5.5px;line-height:8px;font-weight:400;color:#3d3d3d;transform:scaleX(0.992);">Paypal</span>
<div class="b" style="left:139px;top:574.6px;width:5.2px;height:5.2px;background:#f3f3f3;border-radius:0.8px;"></div>
<span class="t" style="left:151.7px;top:573px;font-size:5.5px;line-height:8px;font-weight:400;color:#3d3d3d;transform:scaleX(1.006);">Jane Cooper</span>
<span class="t" style="left:201.2px;top:573px;font-size:5.5px;line-height:8px;font-weight:400;color:#3d3d3d;transform:scaleX(1.002);">jessica.hanson@example.com</span>
<span class="t" style="left:293.7px;top:573px;font-size:5.5px;line-height:8px;font-weight:400;color:#3d3d3d;transform:scaleX(1.002);">8/21/15</span>
<span class="t" style="left:329.8px;top:573px;font-size:5.5px;line-height:8px;font-weight:400;color:#3d3d3d;transform:scaleX(1.036);">$576.28</span>
<span class="t" style="left:367.6px;top:573px;font-size:5.5px;line-height:8px;font-weight:400;color:#3d3d3d;transform:scaleX(1.036);">$576.28</span>
<span class="t" style="left:406.3px;top:573px;font-size:5.5px;line-height:8px;font-weight:400;color:#3d3d3d;">-</span>
<div class="b" style="left:435.9px;top:573.2px;width:15.2px;height:8.1px;background:#c9f4d9;border-radius:4px;box-shadow:0 0 2px rgba(201,244,217,0.9);"></div>
<span class="t" style="left:443.5px;top:574px;font-size:3.9px;line-height:7px;font-weight:700;color:#2c9f58;transform:translateX(-50%) scaleX(0.925);transform-origin:50% 50%;">Paid</span>
<svg class="b" style="left:488.8px;top:573.9px;" width="8" height="6.6" viewBox="0 0 8 6.6"><rect width="8" height="6.6" rx="0.9" fill="#2a2a2a"/><text x="4" y="4.3" font-size="2.3" font-weight="700" fill="#fff" text-anchor="middle" font-family="Liberation Sans, sans-serif">PayPal</text></svg>
<span class="t" style="left:499.2px;top:573px;font-size:5.5px;line-height:8px;font-weight:400;color:#3d3d3d;transform:scaleX(0.992);">Paypal</span>
<span class="t" style="left:124.8px;top:609px;font-size:5.2px;line-height:8px;font-weight:700;color:#2a2a2a;transform:scaleX(0.983);">Show:</span>
<div class="b" style="left:144px;top:606.8px;width:42.1px;height:12.3px;background:#dfe6fb;border-radius:2px;"></div>
<span class="t" style="left:149.9px;top:609px;font-size:5.3px;line-height:8px;font-weight:400;color:#4a6fd8;transform:scaleX(1.018);">Show 10</span>
<svg class="b" style="left:174.4px;top:610px;" width="3.4" height="6.2" viewBox="0 0 3.4 6.2"><path d="M0.7 2.3 L1.7 1 L2.7 2.3 M0.7 3.9 L1.7 5.2 L2.7 3.9" stroke="#4a6fd8" stroke-width="0.6" fill="none" stroke-linecap="round" stroke-linejoin="round"/></svg>
<svg class="b" style="left:516.6px;top:612px;" width="3" height="4" viewBox="0 0 3 4"><path d="M2.2 0.6 L0.9 2 L2.2 3.4" stroke="#aaa" stroke-width="0.5" fill="none" stroke-linecap="round" stroke-linejoin="round"/></svg>
<div class="b" style="left:552.5px;top:609.6px;width:8.8px;height:8.8px;background:#dbe4fa;border-radius:50%;box-shadow:0 0 2px #dbe4fa;"></div>
<span class="t" style="left:527.9px;top:611px;font-size:4.7px;line-height:7px;font-weight:400;color:#8f8f8f;transform:translateX(-50%);">1</span>
<span class="t" style="left:537.6px;top:611px;font-size:4.7px;line-height:7px;font-weight:400;color:#8f8f8f;transform:translateX(-50%);">2</span>
<span class="t" style="left:547.3px;top:611px;font-size:4.7px;line-height:7px;font-weight:400;color:#8f8f8f;transform:translateX(-50%);">3</span>
<span class="t" style="left:556.9px;top:611px;font-size:4.7px;line-height:7px;font-weight:400;color:#5b7fdc;transform:translateX(-50%);">4</span>
<span class="t" style="left:566.6px;top:611px;font-size:4.7px;line-height:7px;font-weight:400;color:#8f8f8f;transform:translateX(-50%);">5</span>
<span class="t" style="left:576.3px;top:611px;font-size:4.7px;line-height:7px;font-weight:400;color:#8f8f8f;transform:translateX(-50%);">6</span>
<svg class="b" style="left:584.8px;top:612px;" width="3" height="4" viewBox="0 0 3 4"><path d="M0.8 0.6 L2.1 2 L0.8 3.4" stroke="#aaa" stroke-width="0.5" fill="none" stroke-linecap="round" stroke-linejoin="round"/></svg>
<span class="t" style="left:604.7px;top:606px;font-size:8.1px;line-height:11px;font-weight:700;color:#333;transform:scaleX(0.988);">Best Sellers</span>
<svg class="b" style="left:608.4px;top:624.2px;" width="6" height="7.2" viewBox="0 0 6 7.2"><ellipse cx="3" cy="3.7" rx="2.3" ry="2.9" fill="#d9b08e"/><path d="M0.6 3.4 C0.3 1 1.6 0.2 3 0.2 C4.4 0.2 5.7 1 5.4 3.4 C5 2.2 4.2 1.8 3 1.8 C1.8 1.8 1 2.2 0.6 3.4 Z" fill="#2b2420"/><path d="M0.9 4.2 C1 6.2 2 7 3 7 C4 7 5 6.2 5.1 4.2 C4.6 5.2 3.8 5.4 3 5.4 C2.2 5.4 1.4 5.2 0.9 4.2 Z" fill="#3a2a22"/></svg>
<svg class="b" style="left:623.9px;top:624.2px;" width="6" height="7.2" viewBox="0 0 6 7.2"><ellipse cx="3" cy="3.7" rx="2.3" ry="2.9" fill="#e2c4a8"/><path d="M0.6 3.4 C0.3 1 1.6 0.2 3 0.2 C4.4 0.2 5.7 1 5.4 3.4 C5 2.2 4.2 1.8 3 1.8 C1.8 1.8 1 2.2 0.6 3.4 Z" fill="#9a948c"/><path d="M0.9 4.2 C1 6.2 2 7 3 7 C4 7 5 6.2 5.1 4.2 C4.6 5.2 3.8 5.4 3 5.4 C2.2 5.4 1.4 5.2 0.9 4.2 Z" fill="#6e5040"/></svg>
<svg class="b" style="left:639.6px;top:624.2px;" width="6" height="7.2" viewBox="0 0 6 7.2"><ellipse cx="3" cy="3.7" rx="2.3" ry="2.9" fill="#e6c6aa"/><path d="M0.6 3.4 C0.3 1 1.6 0.2 3 0.2 C4.4 0.2 5.7 1 5.4 3.4 C5 2.2 4.2 1.8 3 1.8 C1.8 1.8 1 2.2 0.6 3.4 Z" fill="#e4c2a4"/><path d="M0.9 4.2 C1 6.2 2 7 3 7 C4 7 5 6.2 5.1 4.2 C4.6 5.2 3.8 5.4 3 5.4 C2.2 5.4 1.4 5.2 0.9 4.2 Z" fill="#8a4a34"/></svg>
<svg class="b" style="left:655.2px;top:623.6px;" width="6" height="7.2" viewBox="0 0 6 7.2"><ellipse cx="3" cy="3.7" rx="2.3" ry="2.9" fill="#a8603c"/><path d="M0.6 3.4 C0.3 1 1.6 0.2 3 0.2 C4.4 0.2 5.7 1 5.4 3.4 C5 2.2 4.2 1.8 3 1.8 C1.8 1.8 1 2.2 0.6 3.4 Z" fill="#c0341f"/><path d="M0.9 4.2 C1 6.2 2 7 3 7 C4 7 5 6.2 5.1 4.2 C4.6 5.2 3.8 5.4 3 5.4 C2.2 5.4 1.4 5.2 0.9 4.2 Z" fill="#7a3a24"/></svg>
<svg class="b" style="left:670.7px;top:624.0px;" width="6" height="7.2" viewBox="0 0 6 7.2"><ellipse cx="3" cy="3.7" rx="2.3" ry="2.9" fill="#8c7a5c"/><path d="M0.6 3.4 C0.3 1 1.6 0.2 3 0.2 C4.4 0.2 5.7 1 5.4 3.4 C5 2.2 4.2 1.8 3 1.8 C1.8 1.8 1 2.2 0.6 3.4 Z" fill="#2e2e2a"/><path d="M0.9 4.2 C1 6.2 2 7 3 7 C4 7 5 6.2 5.1 4.2 C4.6 5.2 3.8 5.4 3 5.4 C2.2 5.4 1.4 5.2 0.9 4.2 Z" fill="#3a3428"/></svg>
<svg class="b" style="left:686.7px;top:624.2px;" width="6" height="7.2" viewBox="0 0 6 7.2"><path d="M0.2 6.6 C0.4 3 1.6 0.4 3 0.4 C4.4 0.4 5.6 3 5.8 6.6 Z" fill="#a8324a"/><ellipse cx="3" cy="4.4" rx="1.5" ry="1.7" fill="#3a2226"/></svg>
<svg class="b" style="left:701.4px;top:625.6px;" width="3" height="4" viewBox="0 0 3 4"><path d="M0.8 0.6 L2.1 2 L0.8 3.4" stroke="#b9b3d6" stroke-width="0.5" fill="none" stroke-linecap="round" stroke-linejoin="round"/></svg>
<div class="b" style="left:20.2px;top:87.1px;width:258.8px;height:126.2px;background:#fff;border-radius:7px;border-top:3px solid #5034d4;box-shadow:0 6px 16px rgba(0,0,0,0.13);"></div>
<span class="t" style="left:37.1px;top:109px;font-size:10.6px;line-height:14px;font-weight:400;color:#444;transform:scaleX(1.020);">Total Earnings</span>
<span class="t" style="left:36.7px;top:128px;font-size:17.7px;line-height:22px;font-weight:700;color:#1f1f1f;transform:scaleX(1.090);">$12,402</span>
<div class="b" style="left:155px;top:129.4px;width:109px;height:0.5px;background:#f0f0f0;"></div>
<div class="b" style="left:155px;top:148.6px;width:109px;height:0.5px;background:#f3f3f3;"></div>
<svg class="b" style="left:155.3px;top:119.7px;" width="109" height="31" viewBox="0 0 109 31"><path d="M0 15.1 C0.77 14.62 4.80 11.71 6.15 11.3 C7.50 10.89 9.71 11.50 10.8 11.8 C11.89 12.10 13.88 13.45 14.9 13.7 C15.93 13.95 18.17 14.28 19 13.8 C19.83 13.33 20.91 10.51 21.55 9.9 C22.19 9.29 23.14 9.66 24.1 8.9 C25.06 8.14 28.02 4.44 29.25 3.8 C30.48 3.16 32.68 3.55 33.9 3.8 C35.12 4.05 37.66 6.12 39 5.8 C40.34 5.47 43.56 1.77 44.65 1.2 C45.74 0.62 46.99 0.75 47.7 1.2 C48.41 1.65 49.46 3.96 50.3 4.8 C51.14 5.64 53.62 7.20 54.4 7.9 C55.17 8.60 55.60 10.21 56.5 10.4 C57.40 10.59 60.96 9.53 61.6 9.4" transform="scale(1.757 1.92)" stroke="#6257c6" stroke-width="0.5" fill="none" stroke-linejoin="round"/></svg>
<div class="b" style="left:38px;top:162.3px;width:226px;height:0.6px;background:#e6e6e6;"></div>
<svg class="b" style="left:38px;top:184.2px;" width="10" height="7.4" viewBox="0 0 10 7.4"><path d="M0.8 6 L3.6 3.2 L5.4 4.8 L9 1.4 M9 1.4 V3.8 M9 1.4 H6.6" stroke="#62b983" stroke-width="0.75" fill="none" stroke-linecap="round" stroke-linejoin="round"/></svg>
<span class="t" style="left:51.3px;top:180px;font-size:10.7px;line-height:14px;font-weight:400;color:#35a95c;transform:scaleX(1.038);">+32.40%</span>
<span class="t" style="left:100.9px;top:180px;font-size:10.7px;line-height:14px;font-weight:400;color:#999;transform:scaleX(1.033);">Increased last month</span>
<div class="b" style="left:535.3px;top:342.9px;width:262.7px;height:254px;background:#fff;border-radius:17px;box-shadow:2px 13px 24px -5px rgba(0,0,0,0.225), 0 1px 7px rgba(0,0,0,0.06);"></div>
<span class="t" style="left:578.1px;top:359px;font-size:12.1px;line-height:16px;font-weight:700;color:#2a2a2a;transform:scaleX(0.945);">New users</span>
<span class="t" style="left:729.7px;top:361px;font-size:8.1px;line-height:11px;font-weight:400;color:#333;transform:scaleX(0.923);">Year</span>
<svg class="b" style="left:748.2px;top:363.6px;" width="6.6" height="5" viewBox="0 0 6.6 5"><path d="M1 1.4 L3.3 3.7 L5.6 1.4" stroke="#333" stroke-width="0.7" fill="none" stroke-linecap="round" stroke-linejoin="round"/></svg>
<span class="t" style="left:578.1px;top:378px;font-size:7.85px;line-height:11px;font-weight:400;color:#777;transform:scaleX(1.016);">Statistics of the new users</span>
<svg class="b" style="left:0px;top:0px;" width="818" height="690" viewBox="0 0 818 690"><defs><filter id="ps" x="-30%" y="-30%" width="160%" height="170%"><feGaussianBlur stdDeviation="6"/></filter></defs><polygon points="665.7,416.5 731.5,454.5 731.5,530.5 665.7,568.5 599.9,530.5 599.9,454.5" fill="none" stroke="#f0f0f0" stroke-width="0.7"/><polygon points="665.7,435.0 715.5,463.8 715.5,521.2 665.7,550.0 615.9,521.2 615.9,463.8" fill="none" stroke="#f0f0f0" stroke-width="0.7"/><polygon points="665.7,454.5 698.6,473.5 698.6,511.5 665.7,530.5 632.8,511.5 632.8,473.5" fill="none" stroke="#f0f0f0" stroke-width="0.7"/><polygon points="661,447.8 703.3,462.2 707.6,500.1 685.3,541.3 622.3,515.1 616.6,475.5" transform="translate(0,8)" fill="#000" opacity="0.11" filter="url(#ps)"/><polygon points="661,447.8 703.3,462.2 707.6,500.1 685.3,541.3 622.3,515.1 616.6,475.5" fill="#80b8a3"/><path d="M733 456.6 V461.4 M733 522.7 V527.8" stroke="#8a8a8a" stroke-width="0.7"/></svg>
<span class="t" style="left:665.2px;top:403px;font-size:6.7px;line-height:9px;font-weight:400;color:#808080;transform:translateX(-50%);">Jan</span>
<span class="t" style="left:743.3px;top:448px;font-size:6.7px;line-height:9px;font-weight:400;color:#808080;transform:scaleX(1.006);">Mar</span>
<span class="t" style="left:743.1px;top:525px;font-size:6.7px;line-height:9px;font-weight:400;color:#808080;transform:scaleX(0.989);">May</span>
<span class="t" style="left:666px;top:570px;font-size:6.7px;line-height:9px;font-weight:400;color:#808080;transform:translateX(-50%);">Jul</span>
<span class="t" style="left:578.5px;top:525px;font-size:6.7px;line-height:9px;font-weight:400;color:#808080;transform:scaleX(0.949);">Sep</span>
<span class="t" style="left:578.5px;top:448px;font-size:6.7px;line-height:9px;font-weight:400;color:#808080;transform:scaleX(1.058);">Nov</span>
</body></html>
